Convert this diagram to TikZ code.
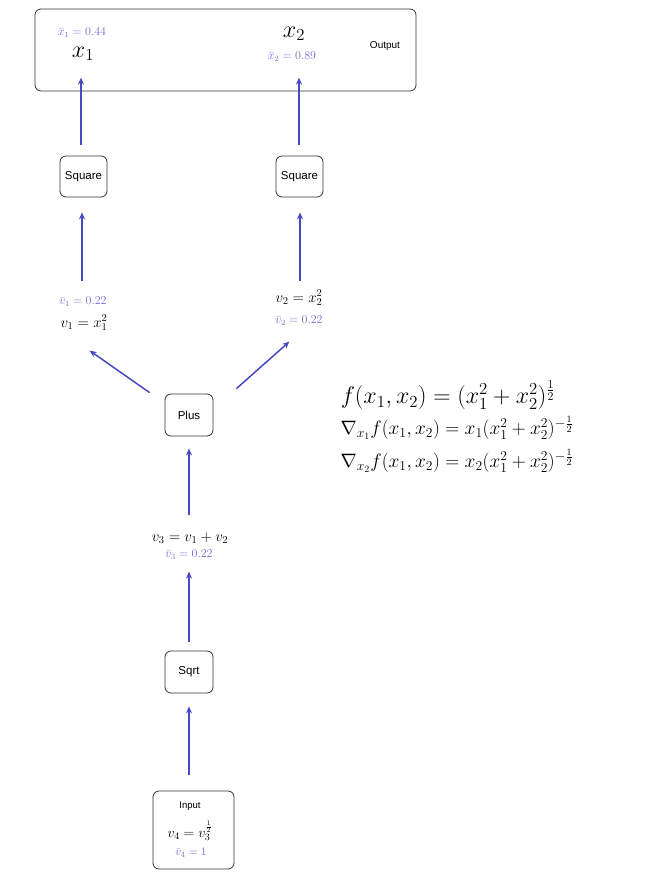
\RequirePackage{fix-cm}
\documentclass[tikz,border=0pt]{standalone}
\usepackage{fontspec}
\setsansfont{Liberation Sans}
\usetikzlibrary{arrows.meta}
\definecolor{arrowc}{RGB}{72,72,194}
\definecolor{gradc}{RGB}{112,106,210}
\begin{document}
\begin{tikzpicture}[x=1pt,y=-1pt,
  box/.style={draw=black!80, rounded corners=6pt, line width=0.8pt,
    font=\sffamily\fontsize{11.5}{13}\selectfont,
    minimum width=47pt, minimum height=41pt, inner sep=0pt},
  flow/.style={draw=arrowc, line width=1.5pt, -{Stealth[length=7pt,width=6pt]}},
  val/.style={font=\fontsize{15}{17}\selectfont, inner sep=0pt},
  grad/.style={text=gradc, font=\fontsize{12}{14}\selectfont, inner sep=0pt},
  bigx/.style={font=\fontsize{24}{26}\selectfont, inner sep=0pt},
  formula/.style={inner sep=0pt},
]
\useasboundingbox (0,0) rectangle (645,886);

% output box
\node[box, minimum width=381pt, minimum height=82pt] (out) at (225.5,50) {};
\node[font=\sffamily\fontsize{10}{12}\selectfont, inner sep=0pt] (outlbl) at (385,46) {Output};
\node[grad] (x1bar) at (82,33) {$\bar{x}_1 = 0.44$};
\node[bigx] (x1) at (83,54) {$x_1$};
\node[bigx] (x2) at (294,34) {$x_2$};
\node[grad] (x2bar) at (292,57) {$\bar{x}_2 = 0.89$};

% square boxes
\node[box] (sqL) at (83.5,176.5) {Square};
\node[box] (sqR) at (299.5,176.5) {Square};

% v1, v2 labels
\node[grad] (v1bar) at (83,302) {$\bar{v}_1 = 0.22$};
\node[val] (v1) at (84,323) {$v_1 = x_1^2$};
\node[val] (v2) at (299,298) {$v_2 = x_2^2$};
\node[grad] (v2bar) at (299,321) {$\bar{v}_2 = 0.22$};

% plus
\node[box, minimum width=48pt, minimum height=42pt] (plus) at (189,415) {Plus};

% v3
\node[val] (v3) at (190,538) {$v_3 = v_1 + v_2$};
\node[grad] (v3bar) at (189,555) {$\bar{v}_3 = 0.22$};

% sqrt
\node[box, minimum width=48pt, minimum height=42pt] (sqrt) at (189,672) {Sqrt};

% input
\node[box, minimum width=81pt, minimum height=78pt] (inp) at (193.5,830) {};
\node[font=\sffamily\fontsize{9.5}{11}\selectfont, inner sep=0pt] (inplbl) at (190,806) {Input};
\node[font=\fontsize{14}{16}\selectfont, inner sep=0pt] (v4) at (190,831) {$v_4 = v_3^{\frac{1}{2}}$};
\node[text=gradc, font=\fontsize{11.5}{13}\selectfont, inner sep=0pt] (v4bar) at (191,853) {$\bar{v}_4 = 1$};

% formulas
\node[formula, font=\fontsize{24}{26}\selectfont] (f) at (448,395) {$f(x_1,x_2) = (x_1^2 + x_2^2)^{\frac{1}{2}}$};
\node[formula, font=\fontsize{19.4}{21}\selectfont] (g1) at (457,428) {$\nabla_{x_1} f(x_1,x_2) = x_1(x_1^2 + x_2^2)^{-\frac{1}{2}}$};
\node[formula, font=\fontsize{19.4}{21}\selectfont] (g2) at (457,461) {$\nabla_{x_2} f(x_1,x_2) = x_2(x_1^2 + x_2^2)^{-\frac{1}{2}}$};

% arrows
\draw[flow] ([xshift=-2.5pt,yshift=11pt]sqL.north) -- ++(0,-67);
\draw[flow] ([xshift=-0.5pt,yshift=11pt]sqR.north) -- ++(0,-67);
\draw[flow] ([xshift=-1.5pt,yshift=-15pt]sqL.south) ++(0,69) -- ([xshift=-1.5pt,yshift=-15pt]sqL.south);
\draw[flow] ([xshift=0.5pt,yshift=-15pt]sqR.south) ++(0,69) -- ([xshift=0.5pt,yshift=-15pt]sqR.south);
\draw[flow] ([xshift=-15pt,yshift=1pt]plus.north west) -- ++(-60,-42);
\draw[flow] ([xshift=23pt,yshift=5pt]plus.north east) -- ++(53,-47);
\draw[flow] ([yshift=-12pt]plus.south) ++(0,67) -- ([yshift=-12pt]plus.south);
\draw[flow] ([yshift=9pt]sqrt.north) -- ++(0,-70);
\draw[flow] ([yshift=-13pt]sqrt.south) ++(0,69) -- ([yshift=-13pt]sqrt.south);
\end{tikzpicture}
\end{document}
